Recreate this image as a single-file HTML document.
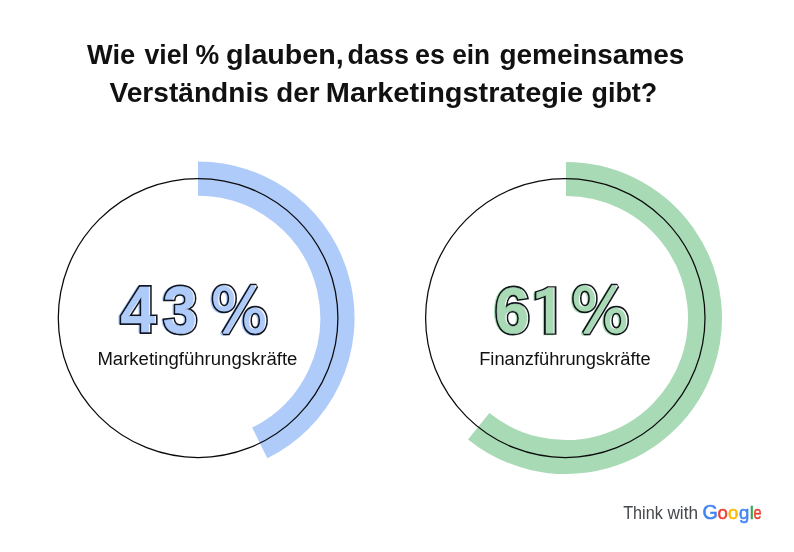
<!DOCTYPE html>
<html lang="de">
<head>
<meta charset="utf-8">
<title>Wie viel % glauben, dass es ein gemeinsames Verständnis der Marketingstrategie gibt?</title>
<style>
html,body{margin:0;padding:0;background:#fff;}
body{width:794px;height:552px;overflow:hidden;position:relative;font-family:"Liberation Sans",sans-serif;}
svg{position:absolute;left:0;top:0;display:block;}
text{font-family:"Liberation Sans",sans-serif;}
.title{font-weight:bold;font-size:27px;fill:#111;}
.label{font-size:18px;fill:#111;}
.n{font-weight:bold;font-size:100px;}
.p{font-family:"DejaVu Sans","Liberation Sans",sans-serif;font-weight:normal;font-size:100px;}
.i{font-family:"IPAGothic","Liberation Sans",sans-serif;font-weight:normal;font-size:100px;}
.n,.p,.k,.i{stroke-linejoin:miter;stroke-miterlimit:3;}
.p{stroke-miterlimit:1.5;}
.mul{mix-blend-mode:multiply;}
.twg{font-size:18.5px;}
.ggl{stroke-width:0.55;}
</style>
</head>
<body>
<svg width="794" height="552" viewBox="0 0 794 552">
  <rect width="794" height="552" fill="#ffffff"/>

  <!-- title -->
  <text class="title" y="63.8"><tspan x="87.0" textLength="48.2" lengthAdjust="spacingAndGlyphs">Wie</tspan> <tspan x="144.40" textLength="44.51" lengthAdjust="spacingAndGlyphs">viel</tspan> <tspan x="195.48" textLength="23.71" lengthAdjust="spacingAndGlyphs">%</tspan> <tspan x="225.94" textLength="117.82" lengthAdjust="spacingAndGlyphs">glauben,</tspan> <tspan x="347.56" textLength="61.44" lengthAdjust="spacingAndGlyphs">dass</tspan> <tspan x="414.96" textLength="29.86" lengthAdjust="spacingAndGlyphs">es</tspan> <tspan x="452.28" textLength="37.87" lengthAdjust="spacingAndGlyphs">ein</tspan> <tspan x="499.46" textLength="184.90" lengthAdjust="spacingAndGlyphs">gemeinsames</tspan></text>
  <text class="title" y="101.9"><tspan x="109.52" textLength="159.39" lengthAdjust="spacingAndGlyphs">Verständnis</tspan> <tspan x="276.33" textLength="43.17" lengthAdjust="spacingAndGlyphs">der</tspan> <tspan x="325.80" textLength="257.34" lengthAdjust="spacingAndGlyphs">Marketingstrategie</tspan> <tspan x="591.55" textLength="65.66" lengthAdjust="spacingAndGlyphs">gibt?</tspan></text>

  <!-- left donut: 43 % -->
  <path d="M198.00 178.60 A139.40 139.40 0 0 1 259.76 442.97" fill="none" stroke="#aecbfa" stroke-width="34.3"/>
  <ellipse cx="198.1" cy="318" rx="139.8" ry="139.5" fill="none" stroke="#0a0a0a" stroke-width="1.25"/>
  <g>
    <text class="n" transform="translate(120.44 332.00) scale(0.6393 0.6420)" fill="none" stroke="#14171f" stroke-width="5.932">4</text>
    <text class="n" transform="translate(120.44 332.00) scale(0.6393 0.6420)" fill="#fff" stroke="#fff" stroke-width="0.937">4</text>
    <text class="n mul" transform="translate(118.44 332.30) scale(0.6393 0.6420)" fill="#aecbfa" stroke="#aecbfa" stroke-width="3.434">4</text>
    <text class="n" transform="translate(162.93 333.03) scale(0.6283 0.6662)" fill="none" stroke="#14171f" stroke-width="5.871">3</text>
    <text class="n" transform="translate(162.93 333.03) scale(0.6283 0.6662)" fill="#fff" stroke="#fff" stroke-width="0.927">3</text>
    <text class="n mul" transform="translate(160.93 333.33) scale(0.6283 0.6662)" fill="#aecbfa" stroke="#aecbfa" stroke-width="3.399">3</text>
    <text class="p" transform="translate(210.41 332.38) scale(0.6155 0.6159)" fill="none" stroke="#14171f" stroke-width="7.471">%</text>
    <text class="p" transform="translate(210.41 332.38) scale(0.6155 0.6159)" fill="#fff" stroke="#fff" stroke-width="2.274">%</text>
    <text class="p mul" transform="translate(208.41 332.68) scale(0.6155 0.6159)" fill="#aecbfa" stroke="#aecbfa" stroke-width="4.873">%</text>
  </g>
  <text class="label" x="97.4" y="364.9" textLength="200" lengthAdjust="spacingAndGlyphs">Marketingführungskräfte</text>

  <!-- right donut: 61 % -->
  <path d="M566.00 179.00 A139.00 139.00 0 1 1 478.71 426.18" fill="none" stroke="#a8dab5" stroke-width="34"/>
  <ellipse cx="565.3" cy="318" rx="139.7" ry="139.5" fill="none" stroke="#0a0a0a" stroke-width="1.25"/>
  <g>
    <text class="n" transform="translate(494.67 333.05) scale(0.6371 0.6521)" fill="none" stroke="#14171f" stroke-width="5.895">6</text>
    <text class="n" transform="translate(494.67 333.05) scale(0.6371 0.6521)" fill="#fff" stroke="#fff" stroke-width="0.931">6</text>
    <text class="n mul" transform="translate(492.67 333.35) scale(0.6371 0.6521)" fill="#a8dab5" stroke="#a8dab5" stroke-width="3.413">6</text>
    <text class="i" transform="translate(526.43 336.41) scale(0.8973 0.6429)" fill="none" stroke="#14171f" stroke-width="5.714">1</text>
    <text class="i" transform="translate(526.43 336.41) scale(0.8973 0.6429)" fill="#fff" stroke="#fff" stroke-width="1.558">1</text>
    <text class="i mul" transform="translate(524.43 336.71) scale(0.8973 0.6429)" fill="#a8dab5" stroke="#a8dab5" stroke-width="3.636">1</text>
    <text class="p" transform="translate(571.08 332.38) scale(0.6226 0.6159)" fill="none" stroke="#14171f" stroke-width="7.428">%</text>
    <text class="p" transform="translate(571.08 332.38) scale(0.6226 0.6159)" fill="#fff" stroke="#fff" stroke-width="2.261">%</text>
    <text class="p mul" transform="translate(569.08 332.68) scale(0.6226 0.6159)" fill="#a8dab5" stroke="#a8dab5" stroke-width="4.845">%</text>
  </g>
  <text class="label" x="479.2" y="364.9" textLength="171.5" lengthAdjust="spacingAndGlyphs">Finanzführungskräfte</text>

  <!-- Think with Google -->
  <text class="twg" y="519.4" fill="#45484d"><tspan x="623.2" textLength="39.6" lengthAdjust="spacingAndGlyphs">Think</tspan> <tspan x="667.4" textLength="30.6" lengthAdjust="spacingAndGlyphs">with</tspan></text>
  <text class="twg ggl" y="519.4"><tspan x="702.6" font-size="19.8" fill="#4285f4" stroke="#4285f4">G</tspan><tspan x="717.5" fill="#ea4335" stroke="#ea4335">o</tspan><tspan x="727.9" fill="#fbbc05" stroke="#fbbc05">o</tspan><tspan x="738.9" fill="#4285f4" stroke="#4285f4">g</tspan><tspan x="749.8" fill="#34a853" stroke="#34a853">l</tspan><tspan x="753.6" textLength="8" lengthAdjust="spacingAndGlyphs" fill="#ea4335" stroke="#ea4335">e</tspan></text>
</svg>
</body>
</html>
